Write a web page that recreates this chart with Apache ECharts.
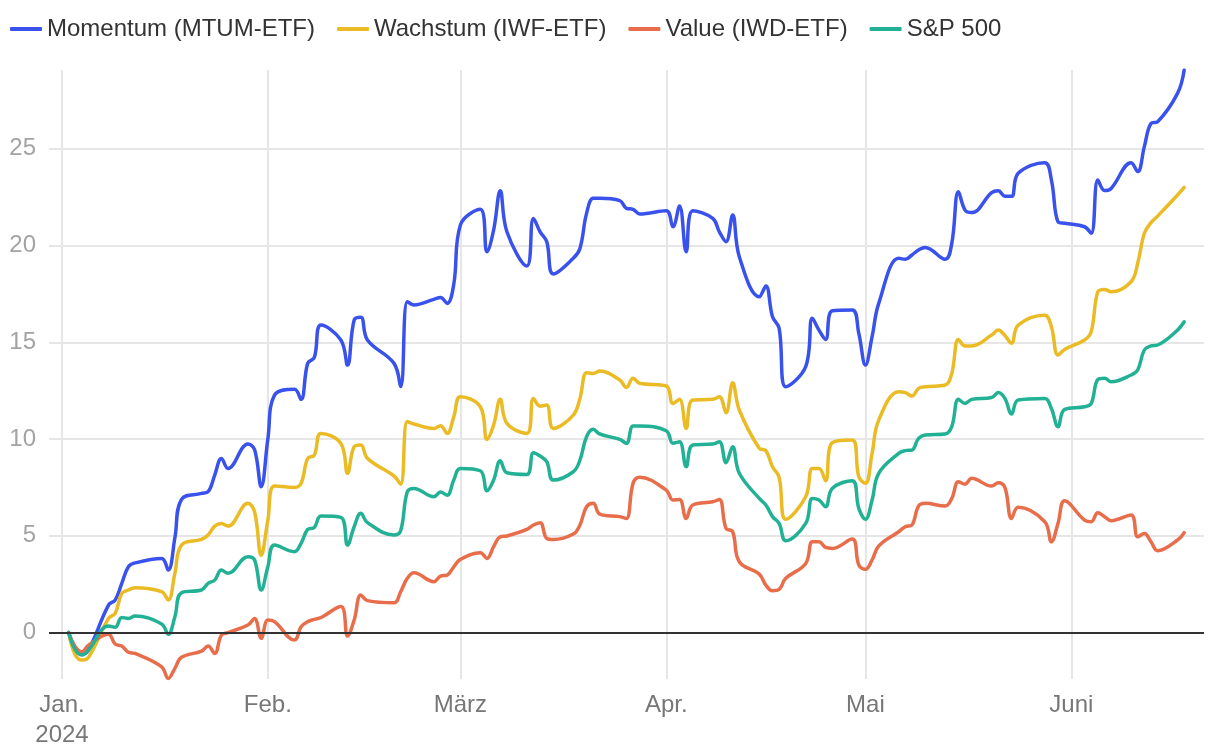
<!DOCTYPE html>
<html><head><meta charset="utf-8">
<script src="https://cdn.jsdelivr.net/npm/echarts@6/dist/echarts.min.js"></script>
<style>html,body{margin:0;padding:0;background:#fff}#chart{width:1220px;height:756px}</style>
</head><body><div id="chart"></div>
<script>
const dates = [
'2024-01-02','2024-01-03','2024-01-04','2024-01-05','2024-01-08','2024-01-09','2024-01-10','2024-01-11','2024-01-12',
'2024-01-16','2024-01-17','2024-01-18','2024-01-19','2024-01-22','2024-01-23','2024-01-24','2024-01-25','2024-01-26',
'2024-01-29','2024-01-30','2024-01-31','2024-02-01','2024-02-02','2024-02-05','2024-02-06','2024-02-07','2024-02-08',
'2024-02-09','2024-02-12','2024-02-13','2024-02-14','2024-02-15','2024-02-16','2024-02-20','2024-02-21','2024-02-22',
'2024-02-23','2024-02-26','2024-02-27','2024-02-28','2024-02-29','2024-03-01','2024-03-04','2024-03-05','2024-03-06',
'2024-03-07','2024-03-08','2024-03-11','2024-03-12','2024-03-13','2024-03-14','2024-03-15','2024-03-18','2024-03-19',
'2024-03-20','2024-03-21','2024-03-22','2024-03-25','2024-03-26','2024-03-27','2024-03-28','2024-04-01','2024-04-02',
'2024-04-03','2024-04-04','2024-04-05','2024-04-08','2024-04-09','2024-04-10','2024-04-11','2024-04-12','2024-04-15',
'2024-04-16','2024-04-17','2024-04-18','2024-04-19','2024-04-22','2024-04-23','2024-04-24','2024-04-25','2024-04-26',
'2024-04-29','2024-04-30','2024-05-01','2024-05-02','2024-05-03','2024-05-06','2024-05-07','2024-05-08','2024-05-09',
'2024-05-10','2024-05-13','2024-05-14','2024-05-15','2024-05-16','2024-05-17','2024-05-20','2024-05-21','2024-05-22',
'2024-05-23','2024-05-24','2024-05-28','2024-05-29','2024-05-30','2024-05-31','2024-06-03','2024-06-04','2024-06-05',
'2024-06-06','2024-06-07','2024-06-10','2024-06-11','2024-06-12','2024-06-13','2024-06-14','2024-06-17','2024-06-18'
];
const momentum = [
0,-0.82,-1.13,-0.9,1.42,1.68,2.54,3.4,3.6,
3.83,3.23,4.9,6.88,7.19,7.28,8.14,9.0,8.48,
9.74,9.46,7.54,10.0,12.27,12.57,12.05,13.91,14.22,
15.89,15.12,13.82,16.15,16.29,15.12,13.91,12.71,17.1,
16.93,17.22,17.32,17.01,18.0,21.06,21.87,19.68,20.8,
22.83,20.71,18.94,21.4,20.71,20.2,18.53,19.34,19.85,
21.66,22.44,22.44,22.32,21.92,21.87,21.63,21.8,20.97,
22.04,19.68,21.8,21.4,20.71,20.2,21.58,19.42,17.35,
17.91,16.32,15.72,12.7,13.74,16.24,15.63,15.15,16.63,
16.67,15.46,13.82,15.29,17.01,19.34,19.29,19.51,19.77,
19.9,19.29,20.11,22.78,21.83,21.7,22.73,22.83,22.55,
22.54,23.73,24.28,23.39,21.23,21.15,20.97,20.63,23.39,
22.84,22.95,24.28,23.82,25.11,26.31,26.4,27.86,29.07
];
const wachstum = [
0,-1.16,-1.42,-1.28,0.73,0.99,2.02,2.2,2.32,
2.11,1.68,3.06,4.52,4.81,5.04,5.5,5.64,5.5,
6.68,6.24,4.0,5.81,7.57,7.5,7.71,9.0,9.17,
10.29,9.77,8.23,9.6,9.69,9.0,8.09,7.67,10.9,
10.78,10.55,10.69,10.29,11.15,12.19,11.67,9.98,10.72,
12.05,10.81,10.29,12.1,11.7,11.76,10.55,11.24,12.1,
13.43,13.39,13.51,13.05,12.67,13.14,12.88,12.74,11.84,
12.05,10.55,12.02,12.05,12.19,11.36,12.91,11.5,9.52,
9.4,8.57,8.02,5.85,7.02,8.48,8.48,7.85,9.81,
9.95,8.05,7.71,9.26,10.98,12.45,12.4,12.22,12.62,
12.7,12.79,13.39,15.15,14.81,14.81,15.37,15.63,15.35,
14.95,15.89,16.4,15.8,14.34,14.63,15.12,15.55,17.61,
17.73,17.61,18.13,19.08,20.63,21.18,21.52,22.61,23.0
];
const valueEtf = [
0,-0.73,-0.99,-0.65,-0.09,-0.59,-0.7,-1.02,-1.08,
-1.77,-2.37,-1.85,-1.28,-0.96,-0.7,-1.08,-0.13,0.0,
0.39,0.73,-0.3,0.65,0.56,-0.39,0.3,0.56,0.68,
0.78,1.34,-0.18,0.65,1.94,1.65,1.54,2.11,2.8,
3.09,2.63,2.92,2.97,3.4,3.78,4.12,3.83,4.44,
4.95,4.99,5.33,5.56,5.68,4.87,4.81,5.09,5.56,
6.5,6.68,6.12,5.99,5.9,7.71,8.02,7.36,6.85,
6.88,5.9,6.59,6.76,6.88,5.38,5.21,3.66,3.02,
2.45,2.16,2.23,2.8,3.57,4.69,4.69,4.4,4.35,
4.83,3.49,3.27,3.75,4.47,5.21,5.47,5.56,6.54,
6.68,6.54,6.93,7.79,7.67,7.97,7.57,7.74,7.5,
5.9,6.47,5.73,4.69,5.64,6.81,5.81,5.73,6.19,
5.99,5.78,6.07,4.95,5.12,4.69,4.23,4.78,5.16
];
const sp500 = [
0,-0.9,-1.16,-0.9,0.34,0.27,0.78,0.73,0.85,
0.44,-0.09,0.82,2.06,2.2,2.54,2.71,3.23,3.06,
3.92,3.75,2.2,3.4,4.52,4.18,4.61,5.33,5.43,
6.02,5.95,4.52,5.47,6.16,5.68,5.04,5.26,7.28,
7.45,7.02,7.26,7.1,7.88,8.48,8.36,7.33,7.88,
8.88,8.26,8.17,9.29,9.12,8.83,7.88,8.31,8.91,
10.12,10.5,10.26,9.98,9.78,10.67,10.67,10.43,9.78,
9.86,8.57,9.69,9.74,9.86,8.78,9.6,8.23,6.93,
6.59,5.99,5.64,4.75,5.64,6.93,6.85,6.5,7.45,
7.85,6.42,5.85,6.85,8.23,9.26,9.4,9.43,10.03,
10.21,10.26,10.64,12.05,11.84,12.05,12.15,12.4,12.1,
11.29,12.02,12.1,11.58,10.64,11.53,11.67,11.84,13.08,
13.14,12.96,13.31,13.57,14.6,14.81,14.86,15.63,16.06
];
const seriesNames = ['Momentum (MTUM-ETF)','Wachstum (IWF-ETF)','Value (IWD-ETF)','S&P 500'];
const seriesValues = [momentum, wachstum, valueEtf, sp500];
const seriesColors = ['#3a52ec','#ebbb25','#e86d4b','#22b194'];
const monthLabels = ['Jan.\n2024','Feb.','März','Apr.','Mai','Juni','Juli','Aug.','Sep.','Okt.','Nov.','Dez.'];

const DAY = 86400000;
const xMin = new Date(2024,0,1).getTime() - 1.96*DAY;
const xMax = xMin + (1155/6.64)*DAY;

const chart = echarts.init(document.getElementById('chart'), null, {renderer:'canvas'});
const font = "'Liberation Sans', Arial, Helvetica, sans-serif";

const series = seriesNames.map((name,i)=>{
  const s = {
    name, type:'line', showSymbol:false, smooth:0.4,
    data: dates.map((d,j)=>[d, seriesValues[i][j]]),
    lineStyle:{width:3.5, color:seriesColors[i], cap:'round', join:'round'},
    itemStyle:{color:seriesColors[i]},
    emphasis:{disabled:true}, silent:true
  };
  if (i===0) {
    s.markLine = {silent:true, symbol:['none','none'], label:{show:false},
      lineStyle:{color:'#333', width:2, type:'solid'}, emphasis:{disabled:true},
      data:[{yAxis:0}]};
  }
  return s;
});

chart.setOption({
  animation:false,
  backgroundColor:'#fff',
  textStyle:{fontFamily:font},
  legend:{
    left:10, top:17, padding:0, itemGap:22, itemWidth:32, itemHeight:4, icon:'roundRect',
    data:seriesNames.map((n,i)=>({name:n, itemStyle:{color:seriesColors[i]}})),
    textStyle:{fontSize:24, color:'#333', fontFamily:font}, selectedMode:false
  },
  grid:{left:49, right:16, top:70, bottom:77, containLabel:false},
  xAxis:{
    type:'time', min:xMin, max:xMax, splitNumber:6,
    minInterval:28*DAY, maxInterval:31*DAY,
    axisLine:{show:false}, axisTick:{show:false},
    axisLabel:{fontSize:24, color:'#777', lineHeight:30, margin:11, fontFamily:font,
      showMinLabel:false, showMaxLabel:false, hideOverlap:false,
      formatter:function(v){ const d=new Date(v); if(d.getDate()!==1||d.getHours()!==0) return ''; return monthLabels[d.getMonth()]; }},
    splitLine:{show:true, showMinLine:false, showMaxLine:false, lineStyle:{color:'#e6e6e6', width:2}}
  },
  yAxis:{
    type:'value', min:-2.4, max:29.07,
    axisLine:{show:false}, axisTick:{show:false},
    axisLabel:{fontSize:24, color:'#a3a3a3', margin:13, fontFamily:font, showMinLabel:false, showMaxLabel:false,
      formatter:function(v){ return (Math.abs(v%5)<1e-6) ? String(v) : ''; }},
    splitLine:{show:true, showMinLine:false, showMaxLine:false, lineStyle:{color:'#e6e6e6', width:2}}
  },
  series
});
</script></body></html>
